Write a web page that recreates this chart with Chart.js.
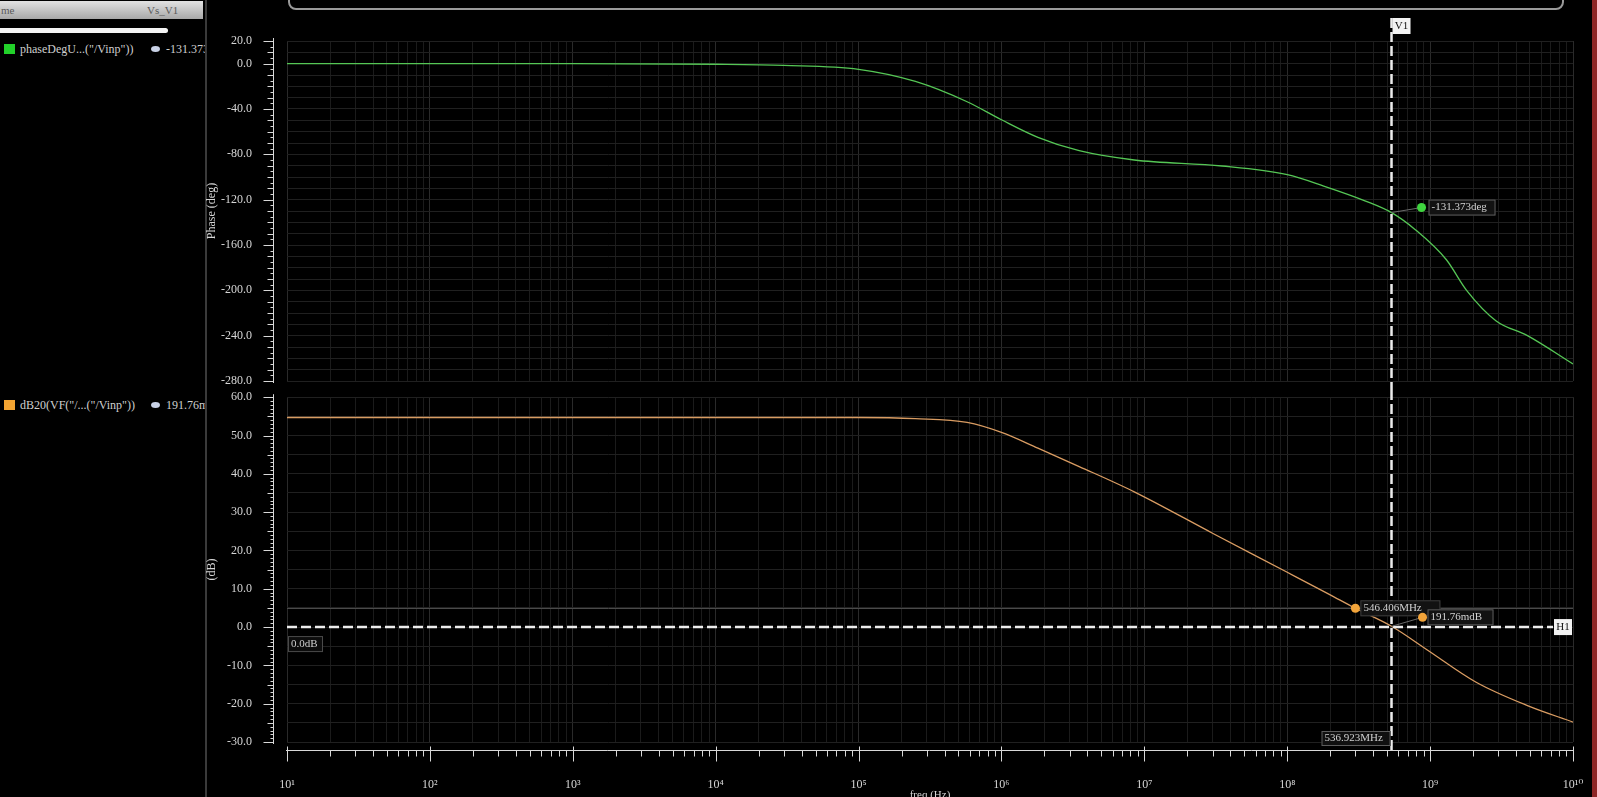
<!DOCTYPE html>
<html>
<head>
<meta charset="utf-8">
<title>AC response</title>
<script src="https://cdn.jsdelivr.net/npm/chart.js@4.4.1/dist/chart.umd.min.js"></script>
<style>
  html, body { margin: 0; padding: 0; background: #000; overflow: hidden; width: 1597px; height: 797px; }
  body { position: relative; font-family: "Liberation Serif", "DejaVu Serif", serif; }
  #side { position: absolute; left: 0; top: 0; width: 205px; height: 797px; overflow: hidden; }
  #divider { position: absolute; left: 205px; top: 0; width: 2px; height: 797px; background: #3a3a3a; }
  #head { position: absolute; left: 0; top: 1px; width: 203px; height: 18px; background: linear-gradient(#e2e2e2, #a8a8a8); color: #5a5a5a; font-size: 11px; line-height: 18px; }
  #head .a { position: absolute; left: 1px; }
  #head .b { position: absolute; left: 147px; }
  #scroll { position: absolute; left: 0; top: 28px; width: 168px; height: 5px; background: #f4f4f4; border-radius: 0 3px 3px 0; }
  .row { position: absolute; left: 0; height: 14px; font-size: 12px; line-height: 14px; color: #cfcfcf; white-space: nowrap; }
  .row .sq { position: absolute; left: 4px; top: 2px; width: 11px; height: 10px; }
  .row .nm { position: absolute; left: 20px; }
  .row .eye { position: absolute; left: 151px; top: 4px; width: 9px; height: 6px; border-radius: 50%; background: #c9d2e6; }
  .row .val { position: absolute; left: 166px; }
  #topbar { position: absolute; left: 288px; top: -12px; width: 1272px; height: 18px; border: 2px solid #9a9a9a; border-radius: 8px; }
  #redge { position: absolute; left: 1592px; top: 0; width: 5px; height: 797px; background: #8e2626; }
  canvas { position: absolute; }
  #phaseChart { left: 205px; top: 0; }
  #gainChart { left: 205px; top: 390px; }
</style>
</head>
<body>
<div id="side">
  <div id="head"><span class="a">me</span><span class="b">Vs_V1</span></div>
  <div id="scroll"></div>
  <div class="row" style="top:42px"><span class="sq" style="background:#22d12a"></span><span class="nm">phaseDegU...("/Vinp"))</span><span class="eye"></span><span class="val">-131.373</span></div>
  <div class="row" style="top:398px"><span class="sq" style="background:#f4a532"></span><span class="nm">dB20(VF("/...("/Vinp"))</span><span class="eye"></span><span class="val">191.76m</span></div>
</div>
<div id="divider"></div>
<div id="topbar"></div>
<canvas id="phaseChart" width="1392" height="390"></canvas>
<canvas id="gainChart" width="1392" height="420"></canvas>
<div id="redge"></div>

<script>
// data
const phaseFreqHz = [10, 1e2, 1e3, 1e4, 3e4, 1e5, 2.5e5, 5.75e5, 1e6, 1.8e6, 3.5e6, 8.5e6, 3.5e7, 1e8, 1.8e8, 3.5e8, 5.37e8, 7.8e8, 1.3e9, 1.8e9, 2.9e9, 4.8e9, 1e10];
const phaseDeg    = [0, 0, 0, -0.5, -1.5, -5, -15.7, -33.6, -49.5, -65, -76.8, -85, -90.3, -98, -108, -121, -131.4, -146, -173, -200, -227, -240, -265];
const gainFreqHz  = [10, 1e2, 1e3, 1e4, 1e5, 2.5e5, 5.75e5, 1e6, 1.8e6, 3.5e6, 8.5e6, 3e7, 1e8, 2e8, 3e8, 5.37e8, 9.5e8, 2.1e9, 4.8e9, 1e10];
const gainDb      = [54.7, 54.7, 54.7, 54.7, 54.7, 54.4, 53.4, 50.8, 46.7, 41.9, 35.3, 24.5, 14.3, 8.4, 4.9, 0.2, -5.9, -14.4, -20.5, -24.8];

// cursors and markers
const cursorFreq = 536.923e6;
const cursorPhase = -131.373;
const cursorGain = 0.19176;
const h1Db = 0;
const gainMarkFreq = 3.0e8;
const gainMarkDb = 4.9;
const cursorText = '536.923MHz';
const phaseText = '-131.373deg';
const gainText = '191.76mdB';
const gainMarkText = '546.406MHz';
const h1Text = '0.0dB';

const sup = { '0': '\u2070', '1': '\u00b9', '2': '\u00b2', '3': '\u00b3', '4': '\u2074', '5': '\u2075', '6': '\u2076', '7': '\u2077', '8': '\u2078', '9': '\u2079' };
const labelFont = { family: '"Liberation Serif", "DejaVu Serif", serif', size: 12 };
const textColor = '#d6d6d6';

function isDecade(v) {
  const e = Math.log10(v);
  return Math.abs(e - Math.round(e)) < 1e-9;
}
function keepWholeTicks(scale) {
  scale.ticks = scale.ticks.filter(t => {
    const m = t.value / Math.pow(10, Math.floor(Math.log10(t.value) + 1e-9));
    return Math.abs(m - Math.round(m)) < 1e-6;
  });
}
function xGridColor(c) {
  if (!c.tick) return '#1a1a1a';
  return isDecade(c.tick.value) ? '#2a2a2a' : '#1b1b1b';
}

function box(ctx, x, y, w, h, fill, stroke) {
  ctx.setLineDash([]);
  ctx.fillStyle = fill;
  ctx.fillRect(x, y, w, h);
  if (stroke) {
    ctx.strokeStyle = stroke;
    ctx.lineWidth = 1;
    ctx.strokeRect(x + 0.5, y + 0.5, w - 1, h - 1);
  }
}
function text(ctx, s, x, y, color, align) {
  ctx.fillStyle = color;
  ctx.font = '11px "Liberation Serif", "DejaVu Serif", serif';
  ctx.textAlign = align || 'left';
  ctx.textBaseline = 'middle';
  ctx.fillText(s, x, y);
}
function dot(ctx, x, y, color) {
  ctx.setLineDash([]);
  ctx.fillStyle = color;
  ctx.beginPath();
  ctx.arc(x, y, 4.5, 0, Math.PI * 2);
  ctx.fill();
}
function dashed(ctx, x0, y0, x1, y1) {
  ctx.strokeStyle = '#ececec';
  ctx.lineWidth = 2.5;
  ctx.setLineDash([10, 4]);
  ctx.beginPath();
  ctx.moveTo(x0, y0);
  ctx.lineTo(x1, y1);
  ctx.stroke();
}

// axis lines sit a little away from the plot area, like the original tool
const frameAxes = {
  id: 'frameAxes',
  afterDraw(chart, args, opts) {
    const { ctx, chartArea: a, scales: { x, y } } = chart;
    ctx.save();
    ctx.strokeStyle = '#d8d8d8';
    ctx.lineWidth = 1;
    ctx.setLineDash([]);
    const ax = a.left - 14 + 0.5;
    ctx.beginPath();
    ctx.moveTo(ax, a.top - 3);
    ctx.lineTo(ax, a.bottom + 2);
    ctx.stroke();
    y.ticks.forEach(t => {
      const py = Math.round(y.getPixelForValue(t.value)) + 0.5;
      let len = 3;
      if (t.label !== '') len = 10;
      else if (t.value % opts.midStep === 0) len = 6;
      ctx.beginPath();
      ctx.moveTo(ax - len, py);
      ctx.lineTo(ax, py);
      ctx.stroke();
    });
    if (opts.xAxis) {
      const ay = a.bottom + 8 + 0.5;
      ctx.beginPath();
      ctx.moveTo(a.left - 1, ay);
      ctx.lineTo(a.right, ay);
      ctx.stroke();
      x.ticks.forEach(t => {
        const px = Math.round(x.getPixelForValue(t.value)) + 0.5;
        const len = isDecade(t.value) ? 11 : 6;
        ctx.beginPath();
        ctx.moveTo(px, ay - (isDecade(t.value) ? 4 : 0));
        ctx.lineTo(px, ay + len);
        ctx.stroke();
      });
    }
    ctx.restore();
  }
};

const phaseOverlay = {
  id: 'phaseOverlay',
  afterDatasetsDraw(chart) {
    const { ctx, chartArea: a, scales: { x, y } } = chart;
    const cx = x.getPixelForValue(cursorFreq);
    const cy = y.getPixelForValue(cursorPhase);
    ctx.save();
    dashed(ctx, cx, a.top - 23, cx, chart.height);
    box(ctx, cx + 1, a.top - 23, 18, 16, '#f2f2f2');
    text(ctx, 'V1', cx + 10, a.top - 15, '#111', 'center');
    const mx = cx + 30, my = cy - 5;
    ctx.setLineDash([]);
    ctx.strokeStyle = '#6a6a6a';
    ctx.lineWidth = 1;
    ctx.beginPath();
    ctx.moveTo(cx, cy);
    ctx.lineTo(mx, my);
    ctx.stroke();
    box(ctx, mx + 7, my - 8, 67, 16, '#121212', '#5c5c5c');
    text(ctx, phaseText, mx + 10, my, '#d2d2d2');
    dot(ctx, mx, my, '#3fd43f');
    ctx.restore();
  }
};

const gainOverlay = {
  id: 'gainOverlay',
  afterDatasetsDraw(chart) {
    const { ctx, chartArea: a, scales: { x, y } } = chart;
    const cx = x.getPixelForValue(cursorFreq);
    const y0 = y.getPixelForValue(h1Db);
    const gy = y.getPixelForValue(cursorGain);
    const m1x = x.getPixelForValue(gainMarkFreq), m1y = y.getPixelForValue(gainMarkDb);
    ctx.save();
    ctx.strokeStyle = '#4a4a4a';
    ctx.lineWidth = 1;
    ctx.beginPath();
    ctx.moveTo(a.left, Math.round(m1y) + 0.5);
    ctx.lineTo(a.right, Math.round(m1y) + 0.5);
    ctx.stroke();
    dashed(ctx, a.left, y0, a.right - 20, y0);
    box(ctx, a.right - 19, y0 - 8, 18, 16, '#f2f2f2');
    text(ctx, 'H1', a.right - 10, y0, '#111', 'center');
    box(ctx, a.left + 1, y0 + 9, 35, 16, '#0c0c0c', '#4a4a4a');
    text(ctx, h1Text, a.left + 4, y0 + 17, '#cfcfcf');
    dashed(ctx, cx, 0, cx, a.bottom + 8);
    box(ctx, cx - 70, a.bottom - 11, 69, 15, '#101010', '#5c5c5c');
    text(ctx, cursorText, cx - 67, a.bottom - 3.5, '#cfcfcf');
    // marker on the curve
    box(ctx, m1x + 5, m1y - 8, 80, 16, '#121212', '#3c3c3c');
    text(ctx, gainMarkText, m1x + 8, m1y, '#d2d2d2');
    dot(ctx, m1x, m1y, '#f2a43a');
    // readout at the cursor
    const m2x = cx + 31, m2y = gy - 9;
    ctx.setLineDash([]);
    ctx.strokeStyle = '#6a6a6a';
    ctx.lineWidth = 1;
    ctx.beginPath();
    ctx.moveTo(cx, gy);
    ctx.lineTo(m2x, m2y);
    ctx.stroke();
    box(ctx, m2x + 5, m2y - 8, 66, 16, '#121212', '#5c5c5c');
    text(ctx, gainText, m2x + 8, m2y, '#d2d2d2');
    dot(ctx, m2x, m2y, '#f2a43a');
    ctx.restore();
  }
};

Chart.defaults.font.family = labelFont.family;

const phaseChart = new Chart(document.getElementById('phaseChart'), {
  type: 'line',
  data: {
    datasets: [{
      data: phaseFreqHz.map((f, i) => ({ x: f, y: phaseDeg[i] })),
      borderColor: '#55c655',
      borderWidth: 1.3,
      pointRadius: 0,
      cubicInterpolationMode: 'monotone',
    }]
  },
  options: {
    responsive: false,
    animation: false,
    devicePixelRatio: 1,
    layout: { padding: { left: 0, right: 24, top: 41, bottom: 9 } },
    plugins: {
      legend: { display: false },
      tooltip: { enabled: false },
      frameAxes: { midStep: 10, xAxis: false },
    },
    scales: {
      x: {
        type: 'logarithmic',
        min: 10,
        max: 1e10,
        afterBuildTicks: keepWholeTicks,
        afterFit: s => { s.height = 0; },
        ticks: { display: false },
        border: { display: false },
        grid: { color: xGridColor, drawTicks: false },
      },
      y: {
        min: -280,
        max: 20,
        afterFit: s => { s.width = 82; },
        ticks: {
          stepSize: 5,
          autoSkip: false,
          padding: 0,
          color: textColor,
          font: labelFont,
          callback: v => (v === 20 || v % 40 === 0) ? v.toFixed(1) : '',
        },
        grid: {
          color: c => (c.tick && c.tick.value % 10 === 0) ? '#202020' : 'rgba(0,0,0,0)',
          tickLength: 35,
          tickColor: 'rgba(0,0,0,0)',
        },
        border: { display: false },
        title: { display: true, text: 'Phase (deg)', color: textColor, font: { size: 12 }, padding: 0 },
      }
    }
  },
  plugins: [frameAxes, phaseOverlay]
});

const gainChart = new Chart(document.getElementById('gainChart'), {
  type: 'line',
  data: {
    datasets: [{
      data: gainFreqHz.map((f, i) => ({ x: f, y: gainDb[i] })),
      borderColor: '#d99c62',
      borderWidth: 1.3,
      pointRadius: 0,
      cubicInterpolationMode: 'monotone',
    }]
  },
  options: {
    responsive: false,
    animation: false,
    devicePixelRatio: 1,
    layout: { padding: { left: 0, right: 24, top: 7, bottom: 0 } },
    plugins: {
      legend: { display: false },
      tooltip: { enabled: false },
      frameAxes: { midStep: 5, xAxis: true },
    },
    scales: {
      x: {
        type: 'logarithmic',
        min: 10,
        max: 1e10,
        afterBuildTicks: keepWholeTicks,
        afterFit: s => { s.height = 68; },
        ticks: {
          autoSkip: false,
          maxRotation: 0,
          padding: 8,
          color: textColor,
          font: labelFont,
          callback: v => isDecade(v) ? '10' + String(Math.round(Math.log10(v))).split('').map(d => sup[d]).join('') : '',
        },
        border: { display: false },
        grid: { color: xGridColor, tickLength: 28, tickColor: 'rgba(0,0,0,0)' },
        title: { display: true, text: 'freq (Hz)', color: textColor, font: { size: 11 }, padding: { top: 0, bottom: 8 } },
      },
      y: {
        min: -30,
        max: 60,
        afterFit: s => { s.width = 82; },
        ticks: {
          stepSize: 1,
          autoSkip: false,
          padding: 0,
          color: textColor,
          font: labelFont,
          callback: v => v % 10 === 0 ? v.toFixed(1) : '',
        },
        grid: {
          color: c => (c.tick && c.tick.value % 5 === 0) ? '#202020' : 'rgba(0,0,0,0)',
          tickLength: 35,
          tickColor: 'rgba(0,0,0,0)',
        },
        border: { display: false },
        title: { display: true, text: '(dB)', color: textColor, font: { size: 12 }, padding: 0 },
      }
    }
  },
  plugins: [frameAxes, gainOverlay]
});
</script>
</body>
</html>
